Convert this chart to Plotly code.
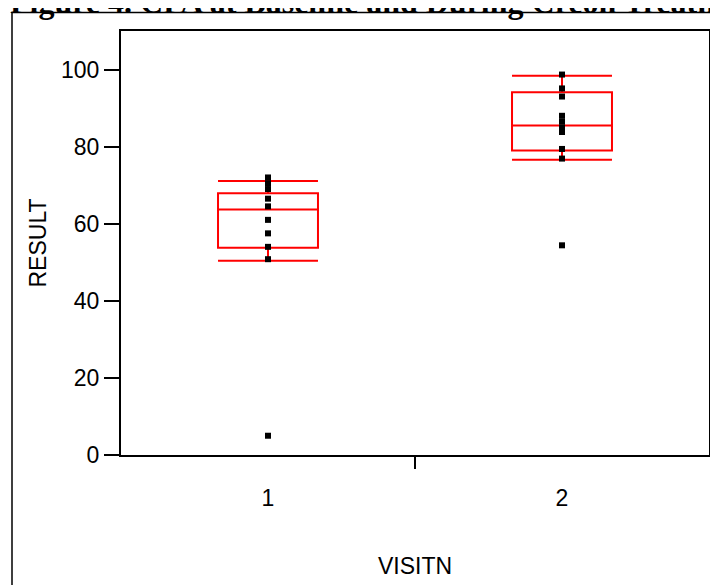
import plotly.graph_objects as go

# ---- data ----
visits = [1, 2]
visit1_results = [72, 70.5, 69, 66.5, 64.5, 61, 57.5, 54, 50.8, 5]
visit2_results = [98.7, 95.1, 93.0, 88, 86.5, 85, 83.8, 79.4, 76.9, 54.4]
box_q1 = [53.8, 79.0]
box_median = [63.7, 85.5]
box_q3 = [67.9, 94.1]
box_lower = [50.4, 76.6]
box_upper = [71.1, 98.4]
y_ticks = [0, 20, 40, 60, 80, 100]
title_text = "Figure 4. CFA at Baseline and During Creon Treatment"

W, H = 718, 585
OFF = 8  # page body margin
# plot box in screen pixels: left 121, top 31, right 709, bottom 455
ML, MT = 121 - OFF, 31 - OFF
MR = W - (709 - OFF)
MB = H - (455 - OFF)
PW, PH = W - ML - MR, H - MT - MB

def px_x(p):
    return (p - ML) / PW

def px_y(p):
    return 1 - (p - MT) / PH

fig = go.Figure()

fig.add_trace(go.Box(
    x=visits, q1=box_q1, median=box_median, q3=box_q3,
    lowerfence=box_lower, upperfence=box_upper,
    width=0.34, whiskerwidth=1,
    line=dict(color="#ff0000", width=2),
    fillcolor="rgba(0,0,0,0)",
    boxpoints=False, hoverinfo="skip", showlegend=False,
))

fig.add_trace(go.Scatter(
    x=[visits[0]] * len(visit1_results) + [visits[1]] * len(visit2_results),
    y=visit1_results + visit2_results,
    mode="markers",
    marker=dict(symbol="square", size=6, color="black"),
    showlegend=False, hoverinfo="skip",
))

# invisible trace tied to second x-axis so its labels render
fig.add_trace(go.Scatter(x=visits, y=[None, None], xaxis="x2", showlegend=False,
                         hoverinfo="skip"))

axis_font = dict(family="Liberation Sans, Arial, sans-serif", size=23, color="black")

fig.update_layout(
    width=W, height=H,
    margin=dict(l=ML, r=MR, t=MT, b=MB, pad=0),
    paper_bgcolor="white", plot_bgcolor="white",
    xaxis=dict(
        range=[0.5, 2.5], tickvals=[1.5], ticktext=[""],
        ticks="outside", ticklen=12, tickwidth=2, tickcolor="black",
        showline=True, linecolor="black", linewidth=2, mirror=True,
        showgrid=False, zeroline=False,
    ),
    xaxis2=dict(
        overlaying="x", side="bottom", range=[0.5, 2.5],
        tickvals=visits, ticktext=[str(v) for v in visits],
        ticks="outside", ticklen=22, tickcolor="rgba(0,0,0,0)",
        tickfont=axis_font, showline=False, showgrid=False, zeroline=False,
        title=dict(text="VISITN", font=axis_font, standoff=48),
    ),
    yaxis=dict(
        range=[0, 110], tickvals=y_ticks,
        ticks="outside", ticklen=15, tickwidth=2, tickcolor="black",
        tickfont=axis_font,
        showline=True, linecolor="black", linewidth=2, mirror=True,
        showgrid=False, zeroline=False,
        title=dict(text="RESULT", font=axis_font, standoff=8),
    ),
    shapes=[dict(
        type="rect", xref="paper", yref="paper",
        x0=px_x(12 - OFF), x1=px_x(740), y0=px_y(620), y1=px_y(12.5 - OFF),
        line=dict(color="black", width=1.5), fillcolor="rgba(0,0,0,0)", layer="below",
    )],
    annotations=[dict(
        text="<b>" + title_text + "</b>", xref="paper", yref="paper",
        x=px_x(0), y=px_y(14), xanchor="left", yanchor="bottom", showarrow=False,
        font=dict(family="Liberation Serif, Times New Roman, serif", size=32, color="black"),
    )],
)

fig.write_html("out.html")
